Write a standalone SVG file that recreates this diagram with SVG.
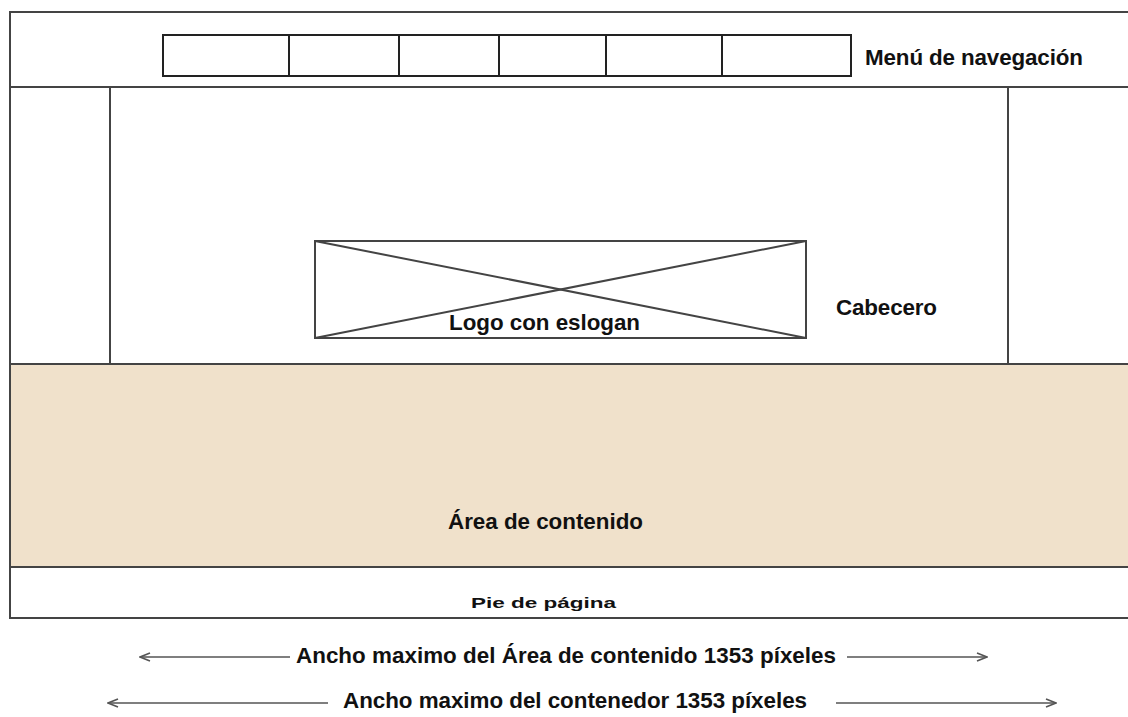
<svg xmlns="http://www.w3.org/2000/svg" width="1128" height="717" viewBox="0 0 1128 717">
<style>
.ln{fill:none;stroke:#444;stroke-width:2}
.btn{fill:#fff;stroke:#222;stroke-width:2}
.t{font-family:"Liberation Sans",Arial,sans-serif;font-weight:bold;font-size:22.4px;fill:#111}
.arr{fill:none;stroke:#555;stroke-width:1.6}
</style>
<defs>
<marker id="ah" viewBox="0 0 12 10" refX="11" refY="5" markerWidth="12" markerHeight="10" markerUnits="userSpaceOnUse" orient="auto-start-reverse">
<path d="M1,1 L11,5 L1,9" fill="none" stroke="#555" stroke-width="1.6"/>
</marker>
</defs>
<rect width="1128" height="717" fill="#fff"/>
<g id="content-area">
<rect x="10" y="364" width="1130" height="203" fill="#f0e1cb"/>
<text class="t" x="448" y="529" textLength="195">Área de contenido</text>
</g>
<g id="container">
<rect class="ln" x="10" y="12" width="1130" height="606"/>
<line class="ln" x1="10" y1="87" x2="1128" y2="87"/>
<line class="ln" x1="10" y1="364" x2="1128" y2="364"/>
<line class="ln" x1="10" y1="567" x2="1128" y2="567"/>
</g>
<g id="nav">
<rect class="btn" x="163" y="35" width="126" height="41"/>
<rect class="btn" x="289" y="35" width="110" height="41"/>
<rect class="btn" x="399" y="35" width="100" height="41"/>
<rect class="btn" x="499" y="35" width="107" height="41"/>
<rect class="btn" x="606" y="35" width="116" height="41"/>
<rect class="btn" x="722" y="35" width="129" height="41"/>
<text class="t" x="865" y="65" textLength="218">Menú de navegación</text>
</g>
<g id="header">
<line class="ln" x1="110" y1="87" x2="110" y2="364" stroke="#666"/>
<line class="ln" x1="1008" y1="87" x2="1008" y2="364" stroke="#666"/>
<text class="t" x="836" y="315" textLength="101">Cabecero</text>
</g>
<g id="logo">
<rect class="ln" x="315" y="241" width="491" height="97"/>
<line class="ln" x1="315" y1="241" x2="806" y2="338"/>
<line class="ln" x1="806" y1="241" x2="315" y2="338"/>
<text class="t" x="449" y="330" textLength="191">Logo con eslogan</text>
</g>
<g id="footer">
<text x="471" y="608" font-family="Liberation Sans,Arial,sans-serif" font-weight="bold" font-size="14" fill="#111" textLength="145" lengthAdjust="spacingAndGlyphs">Pie de página</text>
</g>
<g id="connectors">
<line class="arr" x1="140" y1="657" x2="290" y2="657" marker-start="url(#ah)"/>
<line class="arr" x1="847" y1="657" x2="987" y2="657" marker-end="url(#ah)"/>
<line class="arr" x1="108" y1="703" x2="328" y2="703" marker-start="url(#ah)"/>
<line class="arr" x1="836" y1="703" x2="1056" y2="703" marker-end="url(#ah)"/>
</g>
<g id="labels">
<text class="t" x="296" y="663" textLength="540">Ancho maximo del Área de contenido 1353 píxeles</text>
<text class="t" x="343" y="708" textLength="464">Ancho maximo del contenedor 1353 píxeles</text>
</g>
</svg>
